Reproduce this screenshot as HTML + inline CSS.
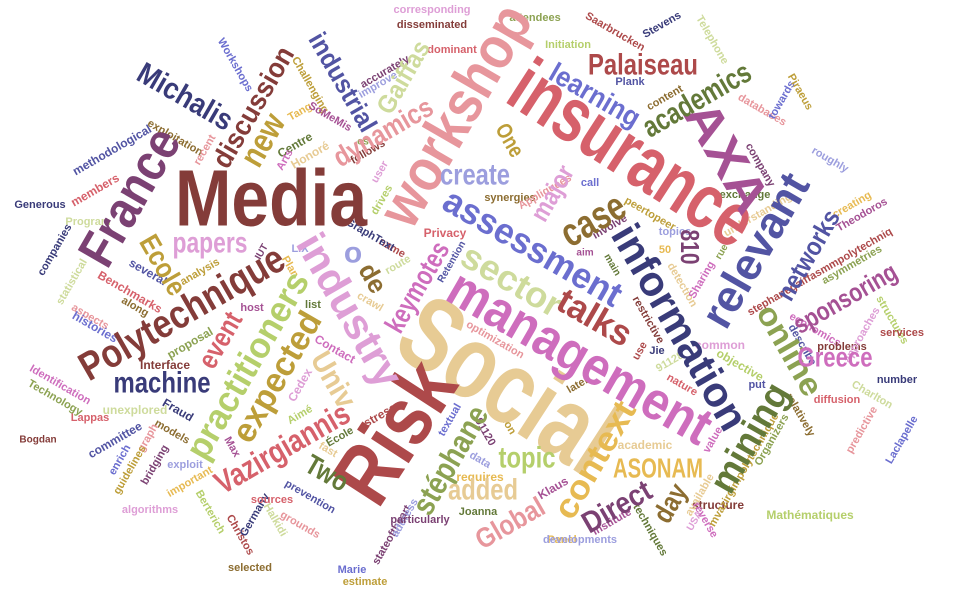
<!DOCTYPE html>
<html><head><meta charset="utf-8"><style>
html,body{margin:0;padding:0;background:#fff;}
svg{display:block;}
text{font-family:"Liberation Sans Narrow","Liberation Sans",sans-serif;font-weight:bold;}
</style></head><body>
<svg id="cloud" width="960" height="600" viewBox="0 0 960 600"></svg>
<script>
const words = ["Social","Risk","insurance","workshop","Media","management","information","relevant","AXA","France","Polytechnique","industry","practitioners","expected","assessment","sector","context","mining","online","Vazirgiannis","keymotes","stéphane","talks","case","academics","Palaiseau","learning","discussion","new","Michalis","industrial","Gaiffas","dynamics","create","machine","Greece","sponsoring","networks","papers","Ecole","Univ","Two","ASONAM","Direct","day","topic","added","Global","major","event","810","de","o","One"];
const weights = [105,85,78,60,80,54,42,45,50,52,40,42,36,34,36,36,34,38,32,32,28,32,36,40,30,30,28,28,34,30,26,26,28,30,30,28,26,26,30,28,30,28,28,30,28,30,30,28,26,28,26,26,30,22];
const bigX = [508,395,633,455,271,580,680,755,727,130,182,350,247,277,533,512,595,750,790,282,417,450,595,593,697,643,595,253,263,185,343,403,383,475,162,835,845,808,210,163,333,327,658,617,670,527,483,510,552,220,690,373,353,510];
const bigY = [385,432,153,115,198,357,327,250,157,197,313,310,365,377,247,280,460,438,350,448,287,460,317,220,100,65,95,107,140,97,82,77,132,175,383,357,298,255,243,265,380,473,468,507,503,458,490,523,193,340,247,278,253,140];
const bigRot = [33,-57,33,-60,0,30,60,-60,60,-60,-30,60,-60,-60,30,30,-60,-60,60,-30,-60,-60,30,-30,-30,0,30,-60,-60,30,60,-60,-30,0,0,0,-30,-60,0,60,60,30,0,-30,-60,0,0,-30,-60,-60,90,60,0,60];
const bigLen = [235,150,275,245,192,295,230,170,120,150,230,170,210,145,200,110,130,120,100,150,100,120,80,68,120,110,100,135,55,105,110,80,110,70,97,75,115,100,75,65,60,45,90,75,40,57,70,75,60,60,35,30,0,35];
const bigColor = ["#e7cb94","#ad494a","#d6616b","#e7969c","#843c39","#ce6dbd","#393b79","#5254a3","#a55194","#7b4173","#843c39","#de9ed6","#b5cf6b","#bd9e39","#6b6ecf","#cedb9c","#e7ba52","#637939","#8ca252","#d6616b","#ce6dbd","#8ca252","#ad494a","#8c6d31","#637939","#ad494a","#6b6ecf","#843c39","#bd9e39","#393b79","#5254a3","#cedb9c","#e7969c","#9c9ede","#393b79","#ce6dbd","#a55194","#5254a3","#de9ed6","#bd9e39","#e7cb94","#637939","#e7ba52","#7b4173","#8c6d31","#b5cf6b","#e7cb94","#e7969c","#de9ed6","#d6616b","#7b4173","#8c6d31","#9c9ede","#bd9e39"];

const smallWords = ["Generous","Program","members","methodological","exploitation","recent","Workshops","Challenging","accurately","improve","Tang","SoMeMis","Centre","Honoré","Arts","os","follows","user","drives","name","GraphText","route","Privacy","Retention","synergies","Appliquées","call","peertopeer","involve","topics","50","aim","main","detection","Sharing","rue","restrictive","common","objective","use","Jie","91128","nature","put","later","optimization","textual","non","91120","data","requires","Klaus","Joanna","academic","value","Organizers","structure","USA","Mathématiques","stephanegaiffasmmpolytechniq","companies","statistical","Benchmarks","several","along","aspects","histories","analysis","IUT","LIX","Plan","host","list","crawl","Contact","proposal","Interface","Cedex","Aimé","stress","Fraud","unexplored","Lappas","committee","models","graph","enrich","guidelines","bridging","exploit","important","Max","École","fast","Identification","Technology","Bogdan","algorithms","Berterich","Christos","Germany","Halkidi","sources","prevention","selected","grounds","Marie","estimate","stateoftheart","address","Panel","Institute","techniques","available","reverse","attendees","disseminated","corresponding","Initiation","Saarbrucken","Stevens","Telephone","dominant","Plank","content","databases","towards","Piraeus","company","roughly","creating","Theodoros","exchange","understanding","economics","asymmetries","problems","approaches","structures","services","number","Charlton","diffusion","describe","relatively","predictive","Laclapelle","mvazirgimpolytechnique","particularly","developments"];
const smallSize = [11,11,12,12,11,11,11,11,11,11,11,11,12,12,11,10,11,11,11,11,11,11,12,10,11,11,11,11,11,11,11,10,10,11,11,10,11,12,12,11,11,11,11,11,11,11,11,11,11,11,12,12,11,12,11,11,12,10,12,11,11,11,12,12,11,11,12,11,10,11,11,11,11,11,12,12,12,12,11,12,12,12,11,12,11,11,11,11,11,11,11,11,11,11,11,11,10,11,11,11,11,11,11,11,11,11,11,11,11,11,11,11,11,11,11,11,11,11,11,11,11,11,11,11,11,11,11,11,11,11,11,11,11,11,11,11,11,11,11,11,11,11,11,11,11,11,11,11];
const smallX = [40,88,95,112,175,205,235,310,385,378,300,330,295,310,285,363,368,380,382,392,370,398,445,452,510,545,590,650,610,675,665,585,612,682,702,722,648,720,740,640,657,670,682,757,578,495,450,508,485,480,480,553,478,645,713,772,718,695,810,820,55,72,130,148,135,90,95,200,262,300,290,252,313,370,335,190,165,300,300,380,178,135,90,115,172,148,120,130,155,185,190,232,340,328,60,55,38,150,210,240,255,275,272,310,250,300,352,365,392,405,562,612,650,700,705,535,432,432,568,615,662,712,452,630,665,762,782,800,760,830,852,862,745,758,815,852,842,862,892,902,897,872,837,802,800,862,902,744,420,580];
const smallY = [205,222,190,150,138,150,65,85,72,85,112,117,145,155,160,142,152,172,200,248,235,265,233,262,198,192,183,214,227,232,250,253,265,285,280,252,320,345,365,351,351,362,385,385,385,340,420,425,432,460,477,488,512,445,440,440,505,521,515,272,250,282,292,272,307,317,327,272,252,249,267,308,305,302,349,343,365,385,415,415,410,410,418,440,432,438,460,470,465,465,482,447,437,450,385,398,440,510,512,535,515,520,500,497,568,525,570,582,535,518,540,522,530,495,520,18,25,10,45,32,25,40,50,82,98,110,100,92,165,160,205,215,195,215,330,265,347,335,320,333,380,395,400,345,415,430,440,470,520,540];
const smallRot = [0,0,-30,-30,30,-60,60,60,-30,-30,-30,30,-30,-30,-60,0,-30,-60,-60,30,30,-30,0,-60,0,-30,0,30,-30,0,0,0,60,60,-60,-60,60,0,30,-60,0,-30,30,0,-30,30,-60,60,60,30,0,-30,0,0,-60,-60,0,-60,0,-30,-60,-60,30,30,30,30,30,-30,-60,0,60,0,0,30,30,-30,0,-60,-30,-30,30,0,0,-30,30,-60,-60,-60,-60,0,-30,60,-30,30,30,30,0,0,60,60,-60,60,0,30,0,30,0,0,-60,-60,0,-30,60,-60,60,0,0,0,0,30,-30,60,0,0,-30,30,-60,60,60,30,-30,-30,0,-30,30,-30,0,-60,60,0,0,30,0,60,60,-60,-60,-60];
const palette = ["#393b79","#5254a3","#6b6ecf","#9c9ede","#637939","#8ca252","#b5cf6b","#cedb9c","#8c6d31","#bd9e39","#e7ba52","#e7cb94","#843c39","#ad494a","#d6616b","#e7969c","#7b4173","#a55194","#ce6dbd","#de9ed6"];

const svg = document.getElementById('cloud');
const NS = 'http://www.w3.org/2000/svg';
function slug(s){return s.toLowerCase().normalize('NFD').replace(/[^a-z0-9]+/g,'-');}
for (let i = 0; i < smallWords.length; i++) {
  if (smallX[i] === undefined || smallY[i] === undefined) continue;
  const t = document.createElementNS(NS,'text');
  
  
  t.setAttribute('x', 0); t.setAttribute('y', 0);
  t.setAttribute('text-anchor','middle');
  t.setAttribute('dominant-baseline','central');
  t.setAttribute('font-size', smallSize[i] || 11);
  t.setAttribute('fill', palette[(i*7)%palette.length]);
  t.setAttribute('transform','translate('+smallX[i]+','+smallY[i]+') rotate('+(smallRot[i]||0)+')');
  t.textContent = smallWords[i];
  svg.appendChild(t);
}
for (let i = 0; i < words.length; i++) {
  const t = document.createElementNS(NS,'text');
  
  
  t.setAttribute('x', 0); t.setAttribute('y', 0);
  t.setAttribute('text-anchor','middle');
  t.setAttribute('dominant-baseline','central');
  t.setAttribute('font-size', weights[i]);
  t.setAttribute('fill', bigColor[i]);
  if (bigLen[i] > 0) { t.setAttribute('textLength', bigLen[i]); t.setAttribute('lengthAdjust','spacingAndGlyphs'); }
  t.setAttribute('transform','translate('+bigX[i]+','+bigY[i]+') rotate('+bigRot[i]+')');
  t.textContent = words[i];
  svg.appendChild(t);
}
</script>
</body></html>
